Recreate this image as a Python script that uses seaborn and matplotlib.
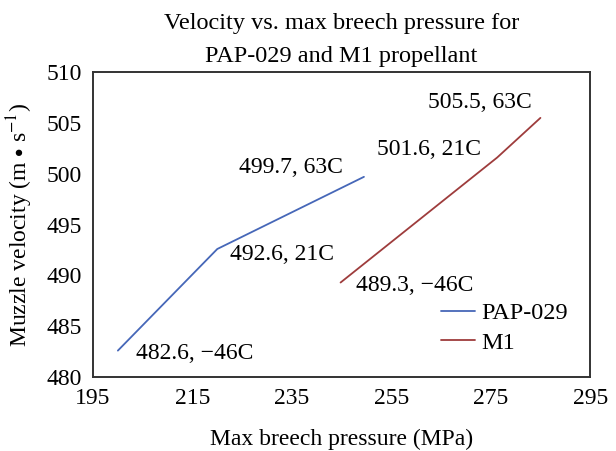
import matplotlib
matplotlib.use("Agg")
import matplotlib.pyplot as plt
import seaborn as sns
import pandas as pd

# Breech pressure (MPa) and muzzle velocity (m/s) at three temperatures
pap_pressure = [200.0, 220.0, 249.5]
pap_velocity = [482.6, 492.6, 499.7]
m1_pressure = [244.8, 276.3, 285.0]
m1_velocity = [489.3, 501.6, 505.5]
temps = ["\u221246C", "21C", "63C"]
series_names = ["PAP-029", "M1"]
colors = ["#4667b8", "#9e3c3c"]

# label anchor positions (data units) for each point annotation
pap_label_pos = [(203.7, 482.3), (222.6, 492.1), (224.4, 500.6)]
m1_label_pos = [(247.9, 489.0), (252.2, 502.4), (262.4, 507.0)]

df = pd.DataFrame({
    "pressure": pap_pressure + m1_pressure,
    "velocity": pap_velocity + m1_velocity,
    "propellant": [series_names[0]] * 3 + [series_names[1]] * 3,
})

sns.set_theme(style="white")
plt.rcParams["font.family"] = ["Liberation Serif", "DejaVu Serif"]
plt.rcParams["mathtext.fontset"] = "stix"
plt.rcParams["text.color"] = "black"
plt.rcParams["axes.labelcolor"] = "black"

fig = plt.figure(figsize=(6.16, 4.51), dpi=100)
ax = fig.add_axes([0.151, 0.164, 0.807, 0.676])

sns.lineplot(data=df, x="pressure", y="velocity", hue="propellant",
             palette=colors, sort=False, linewidth=1.3, ax=ax)

for (x, y), v, t in zip(pap_label_pos, pap_velocity, temps):
    ax.text(x, y, f"{v:.1f}, {t}", fontsize=17, va="center", ha="left", color="black")
for (x, y), v, t in zip(m1_label_pos, m1_velocity, temps):
    ax.text(x, y, f"{v:.1f}, {t}", fontsize=17, va="center", ha="left", color="black")

ax.set_xlim(195, 295)
ax.set_ylim(480, 510)
ax.set_xticks(range(195, 296, 20))
ax.set_yticks(range(480, 511, 5))
ax.tick_params(direction="in", length=4, width=1.2, colors="#333333",
               labelcolor="black", labelsize=17, pad=8)
for s in ax.spines.values():
    s.set_color("#333333")
    s.set_linewidth(1.4)

ax.set_xlabel("Max breech pressure (MPa)", fontsize=17, labelpad=14)
ax.set_ylabel(r"Muzzle velocity (m $\bullet$ s$^{-1}$)", fontsize=17, labelpad=8)
ax.set_title("Velocity vs. max breech pressure for\nPAP-029 and M1 propellant",
             fontsize=17.5, pad=7, linespacing=1.75, color="black")

leg = ax.legend(loc="upper left", bbox_to_anchor=(0.70, 0.245), frameon=False,
                fontsize=17.5, handlelength=1.4, handletextpad=0.25, labelspacing=0.3,
                borderpad=0, borderaxespad=0)
for txt in leg.get_texts():
    txt.set_color("black")

fig.savefig("out.png", dpi=100)
